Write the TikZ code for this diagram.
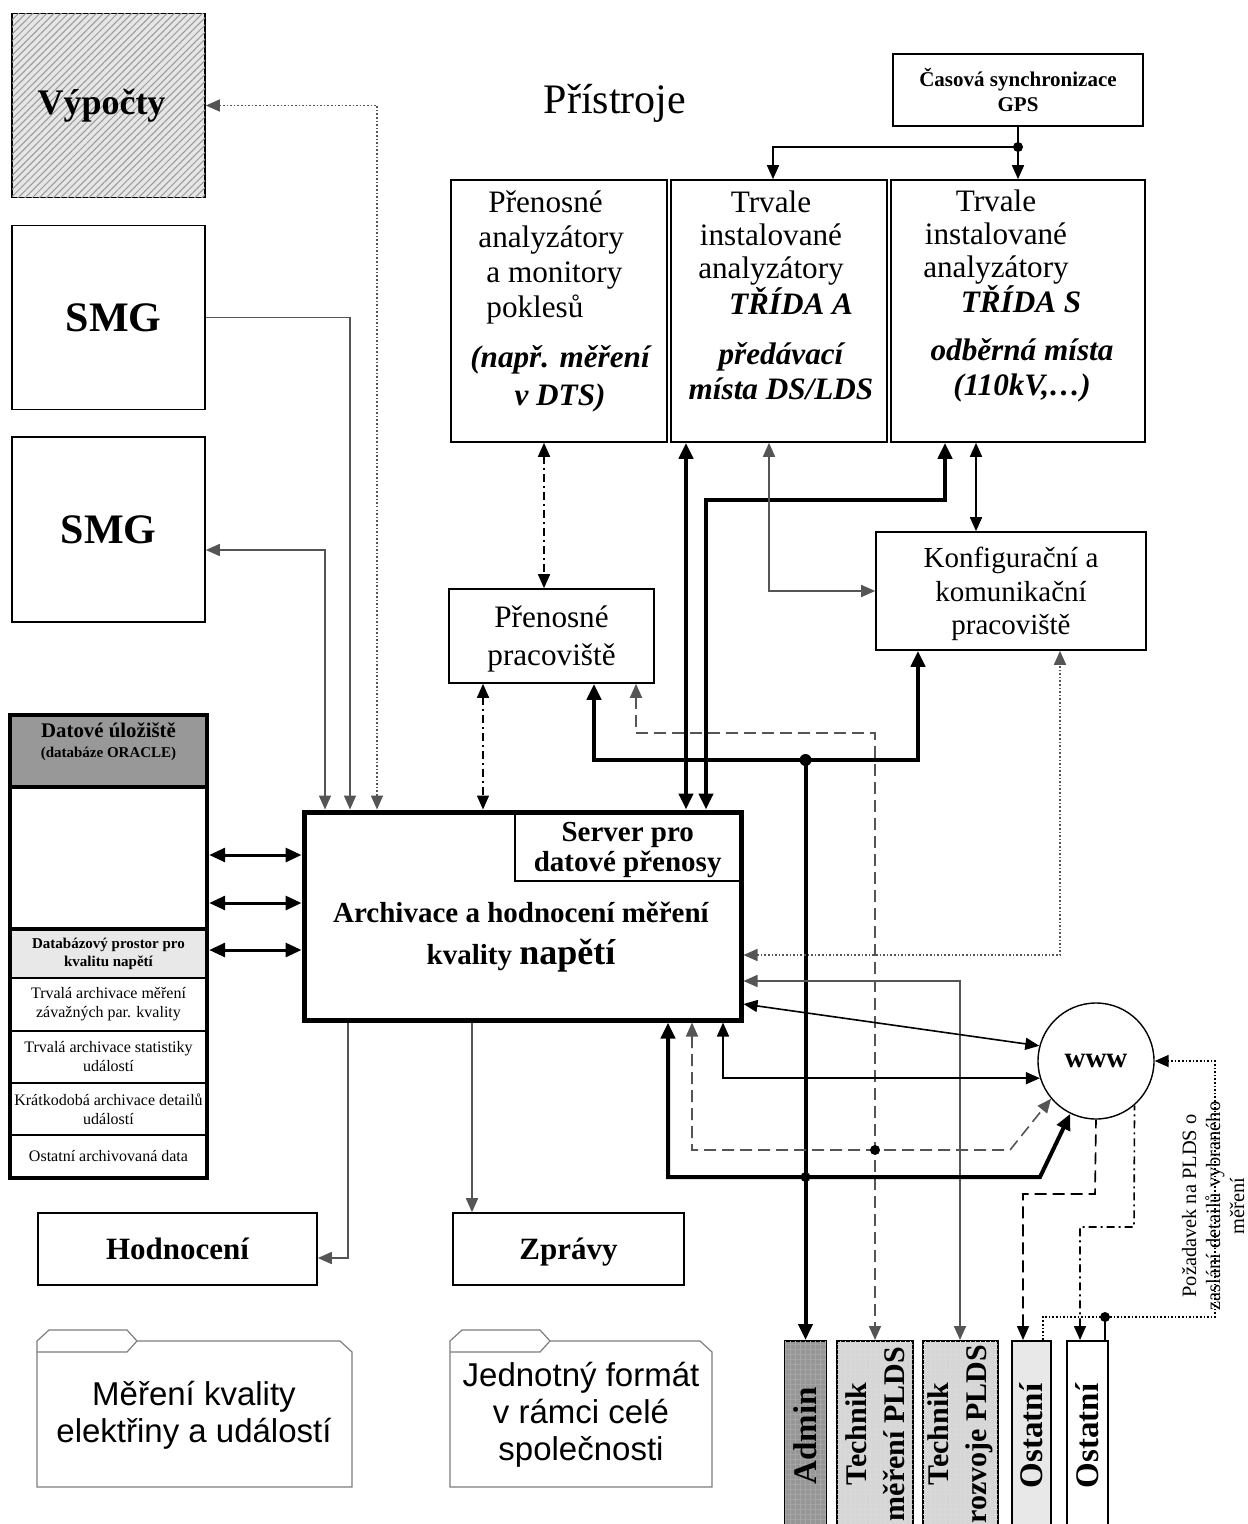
\documentclass[tikz,border=0pt]{standalone}
\usepackage{fontspec}
\setmainfont{Liberation Serif}
\newfontfamily\foldfont{Liberation Sans}
\usepackage{xcolor}
\definecolor{hatchgrey}{RGB}{205,205,205}
\definecolor{headgrey}{RGB}{152,152,152}
\definecolor{dbgrey}{RGB}{232,232,232}
\definecolor{admingrey}{RGB}{150,150,150}
\definecolor{techgrey}{RGB}{214,214,214}
\definecolor{othgrey}{RGB}{232,232,232}
\definecolor{wiregrey}{RGB}{85,85,85}
\definecolor{foldline}{RGB}{125,125,125}
\usepackage{tikz}
\usetikzlibrary{arrows.meta,positioning,fit,patterns.meta}

\begin{document}
\begin{tikzpicture}[
    x=0.5pt, y=-0.5pt,
    box/.style={rectangle, draw, line width=0.8pt, inner sep=0pt, align=center},
    device/.style={box, minimum height=131pt},
    devtext/.style={align=center, inner sep=0pt, font=\fontsize{15.6pt}{16.5pt}\selectfont},
    devnote/.style={align=center, inner sep=0pt, font=\fontsize{15.6pt}{17.5pt}\selectfont\bfseries\itshape},
    smg/.style={box, minimum width=96.5pt, minimum height=92pt, font=\fontsize{21pt}{24pt}\selectfont\bfseries},
    result/.style={box, minimum height=36pt, font=\fontsize{15.5pt}{18pt}\selectfont\bfseries},
    storerow/.style={rectangle, draw, line width=0.6pt, outer sep=0pt, minimum width=98.5pt, inner sep=0pt, align=center, font=\fontsize{8pt}{9.5pt}\selectfont},
    role/.style={rectangle, draw, line width=1pt, rotate=90, anchor=east, minimum width=95pt, inner sep=0pt, align=center, font=\fontsize{16.5pt}{19pt}\selectfont\bfseries},
    foldtext/.style={align=center, inner sep=0pt, font=\foldfont\fontsize{16.5pt}{18.5pt}\selectfont},
    folder/.style={draw=foldline, line width=0.6pt},
    arrow/.style={->, >={Triangle[length=7pt,width=6pt]}, line width=0.8pt},
    twoway/.style={arrow, <->},
    heavy/.style={twoway, line width=2pt, >={Triangle[length=8pt,width=7pt]}},
    wire/.style={twoway, draw=wiregrey},
    dotarrow/.style={twoway, draw=wiregrey, densely dotted},
    dasharrow/.style={twoway, dash pattern=on 6pt off 3pt},
    dashdotarrow/.style={twoway, dash pattern=on 4pt off 2pt on 1pt off 2pt}
]
\clip (0,0) rectangle (1247,1524);

% left column
\node[smg, fill=hatchgrey!50, postaction={pattern={Lines[angle=45,distance=2.5pt,line width=0.5pt]}, pattern color=gray!80}, font=\fontsize{18pt}{20pt}\selectfont\bfseries] (calc) at (108.5,105.5) {Výpočty\hspace*{7pt}};
\node[smg] (smgA) at (108.5,317.5) {\hspace*{5pt}SMG};
\node[smg, minimum height=92.5pt] (smgB) at (108.5,529.5) {SMG};

% instruments
\node[font=\fontsize{21pt}{24pt}\selectfont] (title) at (615,103) {Přístroje};
\node[box, minimum width=125pt, minimum height=36pt, text depth=0pt, font=\fontsize{10.5pt}{12.5pt}\selectfont\bfseries] (gps) at (1018,90) {Časová synchronizace\\GPS};

\node[device, minimum width=108pt] (devP) at (559,311) {};
\node[device, minimum width=108pt] (devA) at (779,311) {};
\node[device, minimum width=127pt] (devS) at (1018,311) {};

\node[devtext, align=left, anchor=west, font=\fontsize{15.6pt}{17.5pt}\selectfont] (devPname) at (478,257) {\hspace*{5pt}Přenosné\\analyzátory\\\hspace*{4pt}a monitory\\\hspace*{4pt}poklesů};
\node[devnote, font=\fontsize{15.6pt}{19pt}\selectfont\bfseries\itshape] (devPnote) at (560,379) {(např. měření\\v DTS)};
\node[devtext] (devAname) at (771,238) {Trvale\\instalované\\analyzátory};
\node[devnote] (devAclass) at (791,301) {TŘÍDA A};
\node[devnote] (devAnote) at (781,371) {předávací\\místa DS/LDS};
\node[devtext] (devSname) at (996,237) {Trvale\\instalované\\analyzátory};
\node[devnote] (devSclass) at (1021,299) {TŘÍDA S};
\node[devnote] (devSnote) at (1022,370) {odběrná místa\\(110kV,…)};

\node[box, minimum width=102.5pt, minimum height=47pt, text depth=0pt, font=\fontsize{15.6pt}{19pt}\selectfont] (mobile) at (551.5,636) {Přenosné\\pracoviště};
\node[box, minimum width=135pt, minimum height=59pt, text depth=0pt, font=\fontsize{14.5pt}{16.7pt}\selectfont] (config) at (1011,591) {Konfigurační a\\komunikační\\pracoviště};

% data store
\node[storerow, minimum height=36pt, line width=2pt, fill=headgrey] (storehead) at (108.5,751) {};
\node[storerow, minimum height=71pt, line width=2pt, below=0pt of storehead] (storeblank) {};
\node[storerow, minimum height=24.5pt, fill=dbgrey, below=0pt of storeblank, font=\fontsize{7.5pt}{9pt}\selectfont\bfseries] (dbspace) {Databázový prostor pro\\kvalitu napětí};
\node[storerow, minimum height=26.5pt, below=0pt of dbspace] (rowA) {Trvalá archivace měření\\závažných par. kvality};
\node[storerow, minimum height=26pt, below=0pt of rowA] (rowB) {Trvalá archivace statistiky\\událostí};
\node[storerow, minimum height=26pt, below=0pt of rowB] (rowC) {Krátkodobá archivace detailů\\událostí};
\node[storerow, minimum height=21.5pt, below=0pt of rowC] (rowD) {Ostatní archivovaná data};
\draw[line width=2pt] (storeblank.south west) -- (storeblank.south east);
\node[fit=(storehead)(rowD), draw, line width=2.2pt, inner sep=0pt] (storage) {};
\node[align=center, inner sep=0pt, font=\fontsize{10.4pt}{10pt}\selectfont\bfseries] (storetitle) at (108.5,742) {Datové úložiště\\{\fontsize{7.5pt}{9pt}\selectfont (databáze ORACLE)}};

% server
\node[box, line width=2.5pt, minimum width=218.5pt, minimum height=104pt] (server) at (522.5,916) {};
\node[box, anchor=north east, minimum width=112.5pt, minimum height=34pt, text depth=0pt, font=\fontsize{14.5pt}{15pt}\selectfont\bfseries] (gateway) at ([xshift=-1.25pt,yshift=-1.25pt]server.north east) {Server pro\\datové přenosy};
\node[align=center, inner sep=0pt, font=\fontsize{14.5pt}{21pt}\selectfont\bfseries] (archtext) at (521,937) {Archivace a hodnocení měření\\kvality {\fontsize{18pt}{21pt}\selectfont napětí}};

\node[circle, draw, line width=0.7pt, minimum size=58pt, inner sep=0pt, font=\fontsize{14.5pt}{16pt}\selectfont\bfseries] (www) at (1096,1061) {www};

% outputs
\node[result, minimum width=139.5pt] (eval) at (177.5,1249) {Hodnocení};
\node[result, minimum width=115.5pt, text depth=0pt] (reports) at (568.5,1249) {Zprávy};

% users
\node[role, minimum height=20.5pt, fill=admingrey, postaction={pattern={Hatch[distance=2.5pt,line width=0.3pt]}, pattern color=gray!70}] (admin) at (805.5,1340) {Admin};
\node[role, minimum width=93pt, minimum height=38pt, fill=techgrey, postaction={pattern={Hatch[distance=2.5pt,line width=0.3pt]}, pattern color=gray!30}, font=\fontsize{15pt}{19pt}\selectfont\bfseries] (techM) at (875,1340) {Technik\\měření PLDS};
\node[role, minimum width=93pt, minimum height=37.5pt, fill=techgrey, postaction={pattern={Hatch[distance=2.5pt,line width=0.3pt]}, pattern color=gray!30}, font=\fontsize{15pt}{19pt}\selectfont\bfseries] (techR) at (960,1340) {Technik\\rozvoje PLDS};
\node[role, minimum height=19.5pt, fill=othgrey] (othA) at (1031.5,1340) {Ostatní};
\node[role, minimum height=20.5pt, fill=white] (othB) at (1087.5,1340) {Ostatní};

\node[rotate=90, align=center, inner sep=0pt, font=\fontsize{10.2pt}{12pt}\selectfont] (request) at (1213,1206) {Požadavek na PLDS o\\zaslání detailů vybraného\\měření};

% folders
\draw[folder] (37,1487) -- (37,1341) -- (49,1330) -- (127,1330) -- (137,1341) -- (340,1341) -- (352,1352) -- (352,1487) -- cycle;
\draw[folder] (37,1352) -- (127,1352) -- (137,1341);
\node[foldtext] (measure) at (194,1415) {Měření kvality\\elektřiny a událostí};
\draw[folder] (450,1487) -- (450,1341) -- (462,1330) -- (540,1330) -- (550,1341) -- (700,1341) -- (712,1352) -- (712,1487) -- cycle;
\draw[folder] (450,1352) -- (540,1352) -- (550,1341);
\node[foldtext] (format) at (581,1415) {Jednotný formát\\v rámci celé\\společnosti};

% junctions
\coordinate (gpsfork) at (gps.south |- 0,147);
\coordinate (hub) at (admin.east |- 0,760);

% connectors
\draw[arrow] (gps.south) -- (gpsfork) -| (devA.north -| 773,0);
\draw[arrow] (gpsfork) -- (devS.north);
\fill (gpsfork) circle (2.5pt);

\draw[wire, ->] (smgA.east) -| (server.north -| 350,0);
\draw[wire] (smgB.east |- 0,550) -| (server.north -| 325,0);
\draw[dotarrow] (calc.east) -| (server.north -| 377,0);

\draw[heavy, line width=1.5pt] (storage.east |- 0,855) -- (server.west |- 0,855);
\draw[heavy, line width=1.5pt] (storage.east |- 0,903) -- (server.west |- 0,903);
\draw[heavy, line width=1.5pt] (storage.east |- 0,950) -- (server.west |- 0,950);

\draw[dashdotarrow] (devP.south -| 544,0) -- (mobile.north -| 544,0);
\draw[dashdotarrow] (mobile.south -| 483,0) -- (server.north -| 483,0);
\draw[heavy] (server.north -| 686,0) -- (devA.south -| 686,0);
\draw[heavy] (server.north -| 706,0) |- (945,500) -- (devS.south -| 945,0);
\draw[wire] (devA.south -| 769,0) |- (config.west);
\draw[twoway] (devS.south -| 976,0) -- (config.north -| 976,0);

\draw[heavy] (mobile.south -| 594,0) |- (hub) -| (config.south -| 918,0);
\draw[heavy, ->] (hub) -- (admin.east);
\fill (hub) circle (3pt);
\draw[dasharrow, draw=wiregrey] (mobile.south -| 636,0) |- (techM.east |- 0,733) -- (techM.east);

\draw[dotarrow] (server.east |- 0,955) -| (config.south -| 1060,0);
\draw[wire] (server.east |- 0,981) -| (techR.east);
\draw[twoway] (server.east |- 0,1004) -- (www.165);
\draw[twoway] (server.south -| 723,0) |- (www.197);
\draw[dasharrow, draw=wiregrey] (server.south -| 692,0) |- (1010,1150) -- (www.220);
\draw[heavy] (server.south -| 668,0) |- (1040,1177) -- (www.244);
\fill (techM.east |- 0,1150) circle (2.5pt);
\fill (admin.east |- 0,1177) circle (2.5pt);

\draw[wire, ->] (server.south -| 348,0) |- (eval.east |- 0,1258);
\draw[wire, ->] (server.south -| 472,0) -- (reports.north -| 472,0);

\draw[dasharrow, <-] (othA.east -| 1023,0) |- (1095,1194) -- (www.south);
\draw[dashdotarrow, <-] (othB.east -| 1080,0) |- (1134,1227) -- (www.311);
\draw[dotarrow, ->, draw=black] (othA.east -| 1043,0) |- (1215,1317) |- (www.east);
\draw[line width=0.8pt] (othB.east -| 1105,0) -- (1105,1317);
\fill (1105,1317) circle (2.5pt);

\end{tikzpicture}
\end{document}
